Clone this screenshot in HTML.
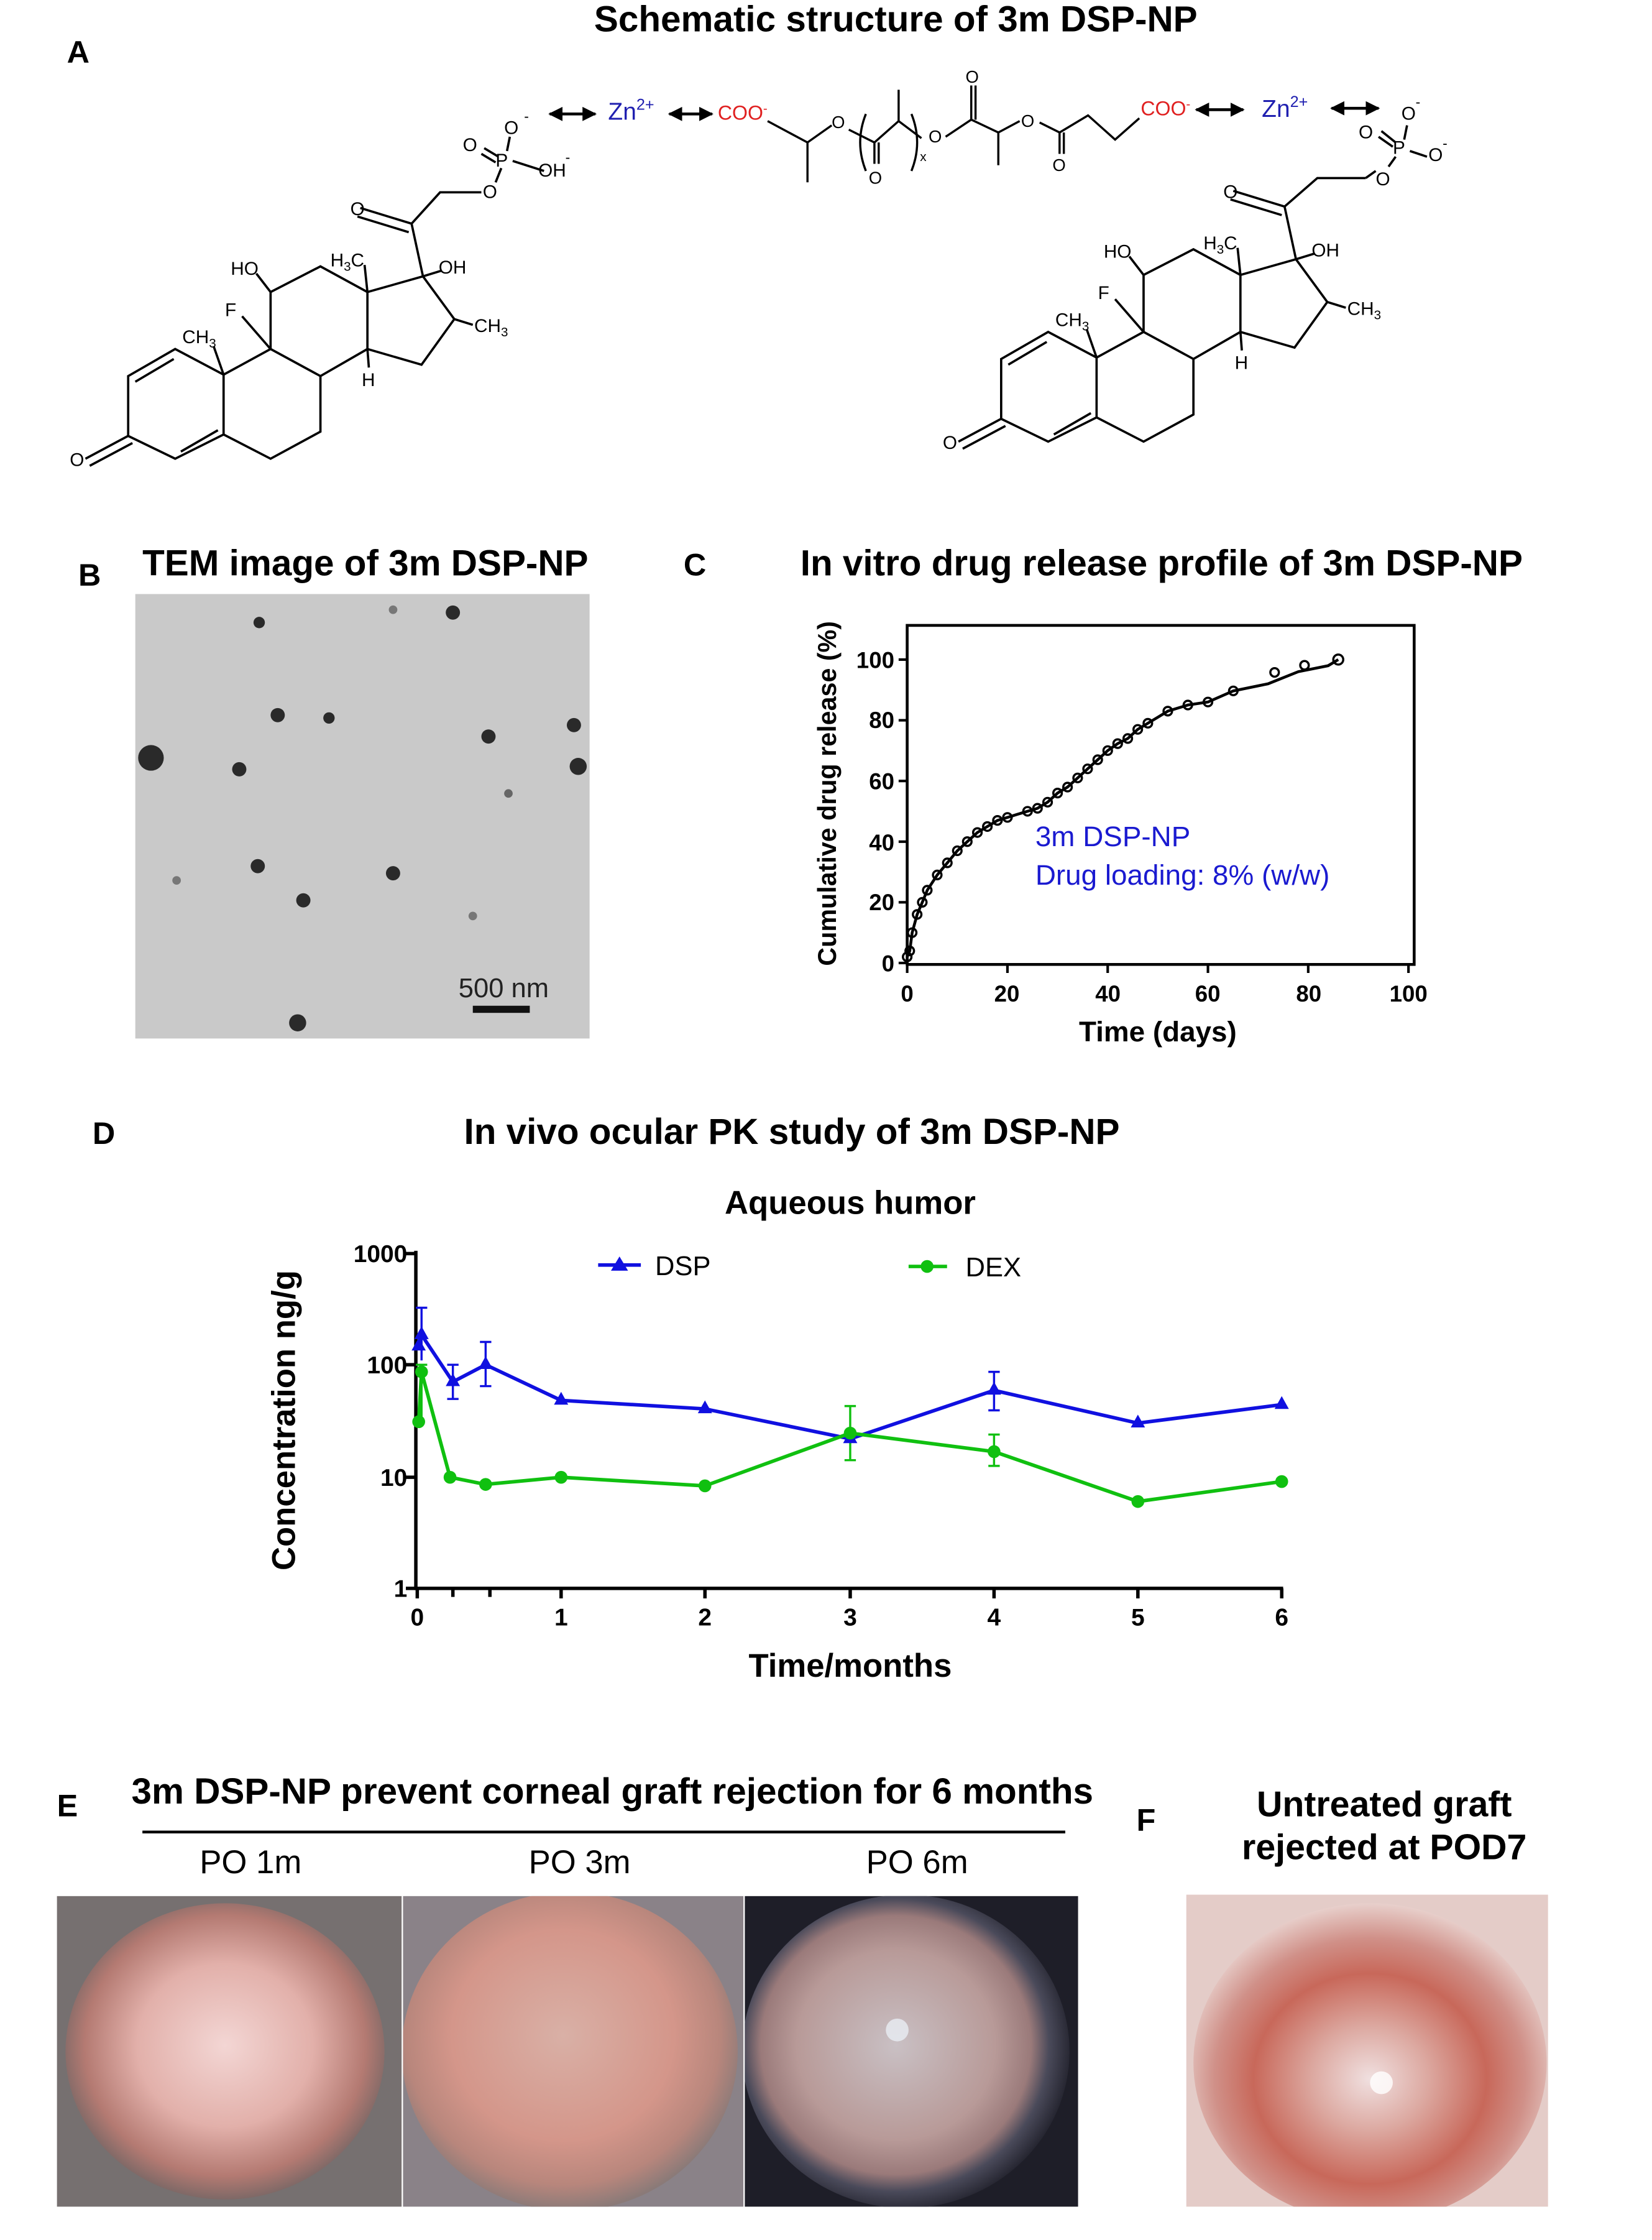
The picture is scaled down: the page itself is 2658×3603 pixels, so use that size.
<!DOCTYPE html>
<html><head><meta charset="utf-8"><style>
html,body{margin:0;padding:0;background:#fff;}
svg{display:block;}
text{font-family:"Liberation Sans",Arial,sans-serif;}
</style></head><body>
<svg width="2658" height="3603" viewBox="0 0 1160 1572.4" preserveAspectRatio="none" xmlns="http://www.w3.org/2000/svg">
<defs>
<radialGradient id="g1" cx="50%" cy="48%" r="55%"><stop offset="0" stop-color="#f3d6d4"/><stop offset="0.5" stop-color="#e2b0aa"/><stop offset="0.8" stop-color="#b47a72"/><stop offset="1" stop-color="#6a6262"/></radialGradient>
<radialGradient id="g2" cx="48%" cy="45%" r="55%"><stop offset="0" stop-color="#d9b0a6"/><stop offset="0.6" stop-color="#d4968a"/><stop offset="0.85" stop-color="#b8867c"/><stop offset="1" stop-color="#8a7a78"/></radialGradient>
<radialGradient id="g3" cx="47%" cy="48%" r="55%"><stop offset="0" stop-color="#c9c0c4"/><stop offset="0.55" stop-color="#b89a98"/><stop offset="0.75" stop-color="#9a7a7a"/><stop offset="0.85" stop-color="#4a4a5a"/><stop offset="1" stop-color="#1e1e28"/></radialGradient>
<radialGradient id="g4" cx="50%" cy="55%" r="55%"><stop offset="0" stop-color="#f0e0e0"/><stop offset="0.3" stop-color="#dca8a0"/><stop offset="0.6" stop-color="#c8685a"/><stop offset="0.8" stop-color="#d09088"/><stop offset="1" stop-color="#e8d0cc"/></radialGradient>
<clipPath id="c1"><rect x="40" y="1331" width="242" height="218"/></clipPath>
<clipPath id="c2"><rect x="283" y="1331" width="239" height="218"/></clipPath>
<clipPath id="c3"><rect x="523" y="1331" width="234" height="218"/></clipPath>
<clipPath id="c4"><rect x="833" y="1330" width="254" height="219"/></clipPath>
<marker id="ah" viewBox="0 0 10 10" refX="9" refY="5" markerWidth="5" markerHeight="5" orient="auto-start-reverse"><path d="M0,0L10,5L0,10Z" fill="#000"/></marker>
</defs>

<!-- A -->
<text x="629" y="22" font-size="25.5" font-weight="bold" text-anchor="middle">Schematic structure of 3m DSP-NP</text>
<text x="47" y="44" font-size="22" font-weight="bold">A</text>

<g stroke="#000" stroke-width="1.6" fill="none">
<path d="M90,264 L123,245 L157,263 L157,305 L123,322 L90,306 Z"/>
<path d="M95,268 L122,252 M127,317 L153,302 M90,306 L60,322 M93,311 L63,327"/>
<path d="M157,263 L190,245 L225,264 L225,303 L190,322 L157,305"/>
<path d="M190,245 L190,205 L225,187 L258,205 L258,245 L225,264"/>
<path d="M258,205 L297,194 L319,224 L296,256 L258,245"/>
<path d="M297,194 L289,157 L309,135 L338,135 M289,157 L253,146 M287,163 L251,152"/>
<path d="M157,263 L150,243 M190,205 L180,192 M258,205 L256,186 M190,245 L170,222 M297,194 L310,190 M319,224 L332,228 M258,245 L259,258"/>
<path d="M348,128 L352,118 M356,106 L358,96 M360,113 L382,120 M340,104 L350,110 M338,108 L348,114"/>
</g>
<g font-size="13">
<text x="162" y="193">HO</text><text x="232" y="187">H<tspan font-size="9" dy="3">3</tspan><tspan dy="-3">C</tspan></text>
<text x="308" y="192">OH</text><text x="158" y="222">F</text><text x="128" y="241">CH<tspan font-size="9" dy="3">3</tspan></text>
<text x="333" y="233">CH<tspan font-size="9" dy="3">3</tspan></text><text x="254" y="271">H</text>
<text x="49" y="327">O</text><text x="246" y="151">O</text><text x="339" y="139">O</text>
<text x="348" y="117">P</text><text x="325" y="106">O</text><text x="354" y="94">O</text><text x="368" y="85" font-size="10">-</text>
<text x="378" y="124">OH</text><text x="397" y="114" font-size="10">-</text>
</g>

<g transform="translate(613,-12)">
<g stroke="#000" stroke-width="1.6" fill="none">
<path d="M90,264 L123,245 L157,263 L157,305 L123,322 L90,306 Z"/>
<path d="M95,268 L122,252 M127,317 L153,302 M90,306 L60,322 M93,311 L63,327"/>
<path d="M157,263 L190,245 L225,264 L225,303 L190,322 L157,305"/>
<path d="M190,245 L190,205 L225,187 L258,205 L258,245 L225,264"/>
<path d="M258,205 L297,194 L319,224 L296,256 L258,245"/>
<path d="M297,194 L289,157 L312,137 L346,137 M289,157 L253,146 M287,163 L251,152"/>
<path d="M157,263 L150,243 M190,205 L180,192 M258,205 L256,186 M190,245 L170,222 M297,194 L310,190 M319,224 L332,228 M258,245 L259,258"/>
</g>
<g font-size="13">
<text x="162" y="193">HO</text><text x="232" y="187">H<tspan font-size="9" dy="3">3</tspan><tspan dy="-3">C</tspan></text>
<text x="308" y="192">OH</text><text x="158" y="222">F</text><text x="128" y="241">CH<tspan font-size="9" dy="3">3</tspan></text>
<text x="333" y="233">CH<tspan font-size="9" dy="3">3</tspan></text><text x="254" y="271">H</text>
<text x="49" y="327">O</text><text x="246" y="151">O</text>
</g>
</g>
<g stroke="#000" stroke-width="1.6" fill="none"><path d="M959,125 L966,120 M975,117 L980,110 M986,98 L988,88 M990,106 L1002,110 M970,92 L980,100 M968,96 L978,103"/></g>
<g font-size="13"><text x="966" y="130">O</text><text x="978" y="108">P</text><text x="954" y="97">O</text><text x="984" y="84">O</text><text x="994" y="75" font-size="10">-</text><text x="1003" y="113">O</text><text x="1013" y="104" font-size="10">-</text></g>

<!-- arrows -->
<g stroke="#000" stroke-width="2" marker-start="url(#ah)" marker-end="url(#ah)">
<path d="M386,80H418"/><path d="M470,80H500"/><path d="M840,77H873"/><path d="M935,76H968"/>
</g>
<g font-size="17">
<text x="427" y="84" fill="#2020b0">Zn<tspan font-size="11" dy="-7">2+</tspan></text>
<text x="504" y="84" fill="#e02020" font-size="14">COO<tspan font-size="9" dy="-5">-</tspan></text>
<text x="801" y="81" fill="#e02020" font-size="14">COO<tspan font-size="9" dy="-5">-</tspan></text>
<text x="886" y="82" fill="#2020b0">Zn<tspan font-size="11" dy="-7">2+</tspan></text>
</g>
<g stroke="#000" stroke-width="1.5" fill="none">
<path d="M539,85 L567,100 L567,128 M567,100 L584,88 M596,91 L614,100 L631,85 L631,63 M631,85 L647,97 M664,96 L682,84 L682,60 M685,84 L685,60 M682,84 L701,93 L701,116 M701,93 L716,85 M730,86 L744,93 L744,108 M747,93 L747,108 M744,93 L764,81 L783,98 L800,83 M614,100 L614,115 M617,100 L617,115"/>
<path d="M608,80 Q600,100 608,120 M640,80 Q648,100 640,120"/>
</g>
<g font-size="12"><text x="584" y="90">O</text><text x="610" y="129">O</text><text x="652" y="100">O</text><text x="646" y="113" font-size="9">x</text><text x="678" y="58">O</text><text x="717" y="89">O</text><text x="739" y="120">O</text></g>

<!-- B -->
<text x="55" y="411" font-size="22" font-weight="bold">B</text>
<text x="100" y="404" font-size="25.5" font-weight="bold">TEM image of 3m DSP-NP</text>
<rect x="95" y="417" width="319" height="312" fill="#c9c9c9"/>
<g fill="#2a2a2a">
<circle cx="182" cy="437" r="4"/><circle cx="276" cy="428" r="3" fill="#777"/><circle cx="318" cy="430" r="5"/>
<circle cx="106" cy="532" r="9"/><circle cx="195" cy="502" r="5"/><circle cx="231" cy="504" r="4"/>
<circle cx="168" cy="540" r="5"/><circle cx="343" cy="517" r="5"/><circle cx="403" cy="509" r="5"/>
<circle cx="406" cy="538" r="6"/><circle cx="357" cy="557" r="3" fill="#666"/><circle cx="181" cy="608" r="5"/>
<circle cx="276" cy="613" r="5"/><circle cx="124" cy="618" r="3" fill="#777"/><circle cx="213" cy="632" r="5"/>
<circle cx="332" cy="643" r="3" fill="#777"/><circle cx="209" cy="718" r="6"/>
</g>
<text x="322" y="700" font-size="19" fill="#222">500 nm</text>
<rect x="332" y="706" width="40" height="5" fill="#111"/>

<!-- C -->
<text x="480" y="404" font-size="22" font-weight="bold">C</text>
<text x="562" y="404" font-size="25.5" font-weight="bold">In vitro drug release profile of 3m DSP-NP</text>
<rect x="637" y="439" width="356" height="238" fill="none" stroke="#000" stroke-width="2"/>
<g stroke="#000" stroke-width="1.8">
<path d="M631,676H637M631,633.4H637M631,590.8H637M631,548.2H637M631,505.6H637M631,463H637"/>
<path d="M637,677V683M707.4,677V683M777.8,677V683M848.2,677V683M918.6,677V683M989,677V683"/>
</g>
<g font-size="16" font-weight="bold" text-anchor="end">
<text x="628" y="682">0</text><text x="628" y="639">20</text><text x="628" y="597">40</text><text x="628" y="554">60</text><text x="628" y="511">80</text><text x="628" y="469">100</text>
</g>
<g font-size="16" font-weight="bold" text-anchor="middle">
<text x="637" y="703">0</text><text x="707" y="703">20</text><text x="778" y="703">40</text><text x="848" y="703">60</text><text x="919" y="703">80</text><text x="989" y="703">100</text>
</g>
<text x="813" y="731" font-size="20" font-weight="bold" text-anchor="middle">Time (days)</text>
<text transform="translate(587,557) rotate(-90)" font-size="18" font-weight="bold" text-anchor="middle">Cumulative drug release (%)</text>
<polyline fill="none" stroke="#000" stroke-width="2" points="637,671.7 638.8,667.5 640.5,654.7 644,641.9 647.6,633.4 651.1,624.9 658.1,614.2 665.2,605.7 672.2,597.2 679.2,590.8 686.3,584.4 693.3,580.2 700.4,575.9 707.4,573.8 714.4,571.6 721.5,569.5 728.5,567.4 735.6,563.1 742.6,556.7 749.6,552.5 756.7,546.1 763.7,539.7 770.8,533.3 777.8,526.9 784.8,522 791.9,518.4 798.9,512 806,507.7 813,503.5 820,499.2 834.1,494.9 848.2,492.8 866,485 890.4,480 911.6,471.5 932.6,467.3 939.7,463"/>
<g fill="none" stroke="#000" stroke-width="1.5">
<circle cx="637" cy="671.7" r="3"/><circle cx="638.8" cy="667.5" r="3"/><circle cx="640.5" cy="654.7" r="3"/><circle cx="644" cy="641.9" r="3"/><circle cx="647.6" cy="633.4" r="3"/><circle cx="651.1" cy="624.9" r="3"/><circle cx="658.1" cy="614.2" r="3"/><circle cx="665.2" cy="605.7" r="3"/><circle cx="672.2" cy="597.2" r="3"/><circle cx="679.2" cy="590.8" r="3"/><circle cx="686.3" cy="584.4" r="3"/><circle cx="693.3" cy="580.2" r="3"/><circle cx="700.4" cy="575.9" r="3"/><circle cx="707.4" cy="573.8" r="3"/><circle cx="721.5" cy="569.5" r="3"/><circle cx="728.5" cy="567.4" r="3"/><circle cx="735.6" cy="563.1" r="3"/><circle cx="742.6" cy="556.7" r="3"/><circle cx="749.6" cy="552.5" r="3"/><circle cx="756.7" cy="546.1" r="3"/><circle cx="763.7" cy="539.7" r="3"/><circle cx="770.8" cy="533.3" r="3"/><circle cx="777.8" cy="526.9" r="3"/><circle cx="784.8" cy="522" r="3"/><circle cx="791.9" cy="518.4" r="3"/><circle cx="798.9" cy="512" r="3"/><circle cx="806" cy="507.7" r="3"/><circle cx="820" cy="499.2" r="3"/><circle cx="834.1" cy="494.9" r="3"/><circle cx="848.2" cy="492.8" r="3"/><circle cx="866" cy="485" r="3"/><circle cx="895" cy="472" r="3"/><circle cx="916" cy="467" r="3"/><circle cx="939.7" cy="463" r="3.5"/>
</g>
<text x="727" y="594" font-size="20" fill="#1a1ad0">3m DSP-NP</text>
<text x="727" y="621" font-size="20" fill="#1a1ad0">Drug loading: 8% (w/w)</text>

<!-- D -->
<text x="65" y="803" font-size="22" font-weight="bold">D</text>
<text x="556" y="803" font-size="25.5" font-weight="bold" text-anchor="middle">In vivo ocular PK study of 3m DSP-NP</text>
<text x="597" y="852" font-size="23" font-weight="bold" text-anchor="middle">Aqueous humor</text>
<g stroke="#000" stroke-width="2.4" fill="none">
<path d="M292,878V1115H901"/>
<path d="M285,880H292M285,958H292M285,1037H292M285,1115H292"/>
<path d="M293,1115V1122M318,1115V1121M344,1115V1121M394,1115V1122M495,1115V1122M597,1115V1122M698,1115V1122M799,1115V1122M900,1115V1122"/>
</g>
<g font-size="17" font-weight="bold" text-anchor="end">
<text x="286" y="886">1000</text><text x="286" y="964">100</text><text x="286" y="1043">10</text><text x="286" y="1121">1</text>
</g>
<g font-size="17" font-weight="bold" text-anchor="middle">
<text x="293" y="1141">0</text><text x="394" y="1141">1</text><text x="495" y="1141">2</text><text x="597" y="1141">3</text><text x="698" y="1141">4</text><text x="799" y="1141">5</text><text x="900" y="1141">6</text>
</g>
<text x="597" y="1177" font-size="23" font-weight="bold" text-anchor="middle">Time/months</text>
<text transform="translate(207,997) rotate(-90)" font-size="23" font-weight="bold" text-anchor="middle">Concentration ng/g</text>
<path d="M420,888H450" stroke="#1010e0" stroke-width="2.5"/><path d="M435,882 L441,892 L429,892Z" fill="#1010e0"/>
<text x="460" y="895" font-size="19">DSP</text>
<path d="M638,889H665" stroke="#10c010" stroke-width="2.5"/><circle cx="651" cy="889" r="4.5" fill="#10c010"/>
<text x="678" y="896" font-size="19">DEX</text>
<g stroke="#1010e0" stroke-width="1.5" fill="none">
<path d="M296,918V955M292,918H300M318,958V982M314,958H322M314,982H322M341,942V973M337,942H345M337,973H345M698,963V990M694,963H702M694,990H702"/>
</g>
<g stroke="#10c010" stroke-width="1.5" fill="none">
<path d="M296,958V1000M292,958H300M597,987V1025M593,987H601M593,1025H601M698,1007V1029M694,1007H702M694,1029H702"/>
</g>
<polyline fill="none" stroke="#1010e0" stroke-width="2.5" points="294,945 296,937 318,970 341,958 394,983 495,989 597,1010 698,976 799,999 900,986"/>
<g fill="#1010e0">
<path d="M294,939l5,9h-10z"/><path d="M296,931l5,9h-10z"/><path d="M318,964l5,9h-10z"/><path d="M341,952l5,9h-10z"/><path d="M394,977l5,9h-10z"/><path d="M495,983l5,9h-10z"/><path d="M597,1004l5,9h-10z"/><path d="M698,970l5,9h-10z"/><path d="M799,993l5,9h-10z"/><path d="M900,980l5,9h-10z"/>
</g>
<polyline fill="none" stroke="#10c010" stroke-width="2.5" points="294,998 296,963 316,1037 341,1042 394,1037 495,1043 597,1006 698,1019 799,1054 900,1040"/>
<g fill="#10c010">
<circle cx="294" cy="998" r="4.5"/><circle cx="296" cy="963" r="4.5"/><circle cx="316" cy="1037" r="4.5"/><circle cx="341" cy="1042" r="4.5"/><circle cx="394" cy="1037" r="4.5"/><circle cx="495" cy="1043" r="4.5"/><circle cx="597" cy="1006" r="4.5"/><circle cx="698" cy="1019" r="4.5"/><circle cx="799" cy="1054" r="4.5"/><circle cx="900" cy="1040" r="4.5"/>
</g>

<!-- E -->
<text x="40" y="1275" font-size="22" font-weight="bold">E</text>
<text x="430" y="1266" font-size="25.5" font-weight="bold" text-anchor="middle">3m DSP-NP prevent corneal graft rejection for 6 months</text>
<path d="M100,1286H748" stroke="#000" stroke-width="2"/>
<text x="176" y="1315" font-size="23" text-anchor="middle">PO 1m</text>
<text x="407" y="1315" font-size="23" text-anchor="middle">PO 3m</text>
<text x="644" y="1315" font-size="23" text-anchor="middle">PO 6m</text>
<rect x="40" y="1331" width="242" height="218" fill="#767070"/>
<ellipse cx="158" cy="1440" rx="112" ry="104" fill="url(#g1)" clip-path="url(#c1)"/>
<rect x="283" y="1331" width="239" height="218" fill="#8a8288"/>
<ellipse cx="400" cy="1440" rx="118" ry="112" fill="url(#g2)" clip-path="url(#c2)"/>
<rect x="523" y="1331" width="234" height="218" fill="#1e1e28"/>
<ellipse cx="636" cy="1440" rx="115" ry="110" fill="url(#g3)" clip-path="url(#c3)"/>
<circle cx="630" cy="1425" r="8" fill="#e8eef4" opacity="0.8"/>
<!-- F -->
<text x="798" y="1285" font-size="22" font-weight="bold">F</text>
<text x="972" y="1275" font-size="25" font-weight="bold" text-anchor="middle">Untreated graft</text>
<text x="972" y="1305" font-size="25" font-weight="bold" text-anchor="middle">rejected at POD7</text>
<rect x="833" y="1330" width="254" height="219" fill="#e4ccc8"/>
<ellipse cx="962" cy="1448" rx="124" ry="112" fill="url(#g4)" clip-path="url(#c4)"/>
<circle cx="970" cy="1462" r="8" fill="#fff" opacity="0.8"/>
</svg>
</body></html>
